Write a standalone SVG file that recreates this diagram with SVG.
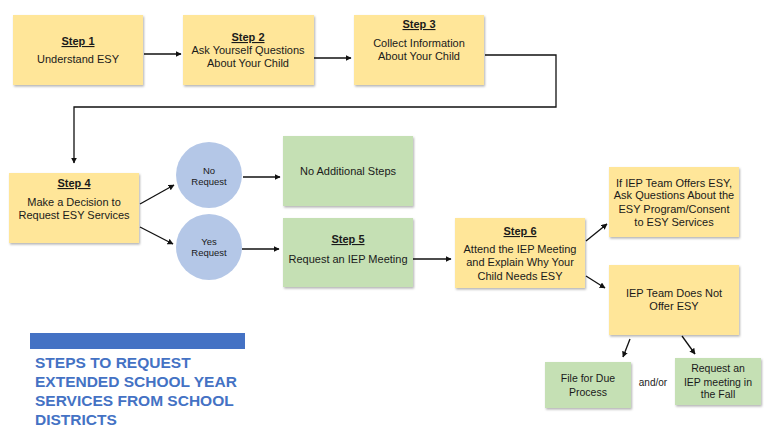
<svg xmlns="http://www.w3.org/2000/svg" width="769" height="446" viewBox="0 0 769 446">
<style>
text{font-family:"Liberation Sans",Arial,sans-serif;font-size:11px;fill:#1a1a1a;text-anchor:middle}
.t{font-weight:bold;text-decoration:underline}
.y{fill:#FFE699;filter:url(#sh)}
.g{fill:#C5E0B4;filter:url(#sh)}
.c{fill:#B4C7E7}
.s{font-size:9.5px}
.b{font-size:10.5px}
.title{font-size:15.5px;font-weight:bold;fill:#4472C4;text-anchor:start}
#connectors path{fill:none;stroke:#111;stroke-width:1.3;marker-end:url(#ah)}
</style>
<defs>
<filter id="sh" x="-10%" y="-10%" width="125%" height="130%">
<feDropShadow dx="1" dy="1.5" stdDeviation="1.2" flood-color="#000" flood-opacity="0.3"/>
</filter>
<marker id="ah" viewBox="0 0 10 10" refX="9" refY="5" markerWidth="6" markerHeight="6" markerUnits="userSpaceOnUse" orient="auto">
<path d="M0,0 L10,5 L0,10 Z" fill="#111"/>
</marker>
</defs>
<rect width="769" height="446" fill="#fff"/>

<g id="connectors">
<path d="M144,54 H181"/>
<path d="M314,58 H351"/>
<path d="M485,55 H556 V107 H74 V163"/>
<path d="M140,204 L174,185"/>
<path d="M140,227 L173,244"/>
<path d="M243,177 H280"/>
<path d="M242,249 H279"/>
<path d="M413,259 H451"/>
<path d="M586,241 L607,224"/>
<path d="M586,276 L605,288"/>
<path d="M630,339 L623,357"/>
<path d="M682,336 L695,354"/>
</g>

<g id="step1">
<rect class="y" x="13" y="15" width="130" height="70"/>
<text class="t" x="78" y="45">Step 1</text>
<text x="78" y="63">Understand ESY</text>
</g>
<g id="step2">
<rect class="y" x="183" y="15" width="131" height="70"/>
<text class="t" x="248" y="41">Step 2</text>
<text x="248" y="54">Ask Yourself Questions</text>
<text x="248" y="67">About Your Child</text>
</g>
<g id="step3">
<rect class="y" x="354" y="15" width="130" height="70"/>
<text class="t" x="419" y="28">Step 3</text>
<text x="419" y="47">Collect Information</text>
<text x="419" y="60">About Your Child</text>
</g>
<g id="step4">
<rect class="y" x="9" y="173" width="130" height="70"/>
<text class="t" x="74" y="187">Step 4</text>
<text x="74" y="206">Make a Decision to</text>
<text x="74" y="219">Request ESY Services</text>
</g>
<g id="no-request">
<circle class="c" cx="209" cy="175" r="33"/>
<text class="s" x="209" y="174">No</text>
<text class="s" x="209" y="185">Request</text>
</g>
<g id="yes-request">
<circle class="c" cx="209" cy="247" r="33"/>
<text class="s" x="209" y="245">Yes</text>
<text class="s" x="209" y="256">Request</text>
</g>
<g id="no-additional">
<rect class="g" x="283" y="136" width="130" height="70"/>
<text x="348" y="175">No Additional Steps</text>
</g>
<g id="step5">
<rect class="g" x="283" y="218" width="130" height="69"/>
<text class="t" x="348" y="243">Step 5</text>
<text x="348" y="263">Request an IEP Meeting</text>
</g>
<g id="step6">
<rect class="y" x="455" y="218" width="130" height="70"/>
<text class="t" x="520" y="235">Step 6</text>
<text x="520" y="253">Attend the IEP Meeting</text>
<text x="520" y="266">and Explain Why Your</text>
<text x="520" y="280">Child Needs ESY</text>
</g>
<g id="offers">
<rect class="y" x="609" y="167" width="130" height="70"/>
<text x="674" y="187">If IEP Team Offers ESY,</text>
<text x="674" y="199">Ask Questions About the</text>
<text x="674" y="213">ESY Program/Consent</text>
<text x="674" y="226">to ESY Services</text>
</g>
<g id="does-not-offer">
<rect class="y" x="609" y="265" width="130" height="70"/>
<text x="674" y="297">IEP Team Does Not</text>
<text x="674" y="310">Offer ESY</text>
</g>
<g id="due-process">
<rect class="g" x="545" y="362" width="86" height="46"/>
<text class="b" x="588" y="382">File for Due</text>
<text class="b" x="588" y="396">Process</text>
</g>
<text class="b" x="653" y="386" style="font-size:10px">and/or</text>
<g id="request-fall">
<rect class="g" x="675" y="358" width="86" height="47"/>
<text class="b" x="718" y="372">Request an</text>
<text class="b" x="718" y="386">IEP meeting in</text>
<text class="b" x="718" y="398">the Fall</text>
</g>

<g id="title">
<rect x="30" y="333" width="215" height="16" fill="#4472C4"/>
<text class="title" x="35" y="368">STEPS TO REQUEST</text>
<text class="title" x="35" y="387">EXTENDED SCHOOL YEAR</text>
<text class="title" x="35" y="406">SERVICES FROM SCHOOL</text>
<text class="title" x="35" y="425">DISTRICTS</text>
</g>
</svg>
